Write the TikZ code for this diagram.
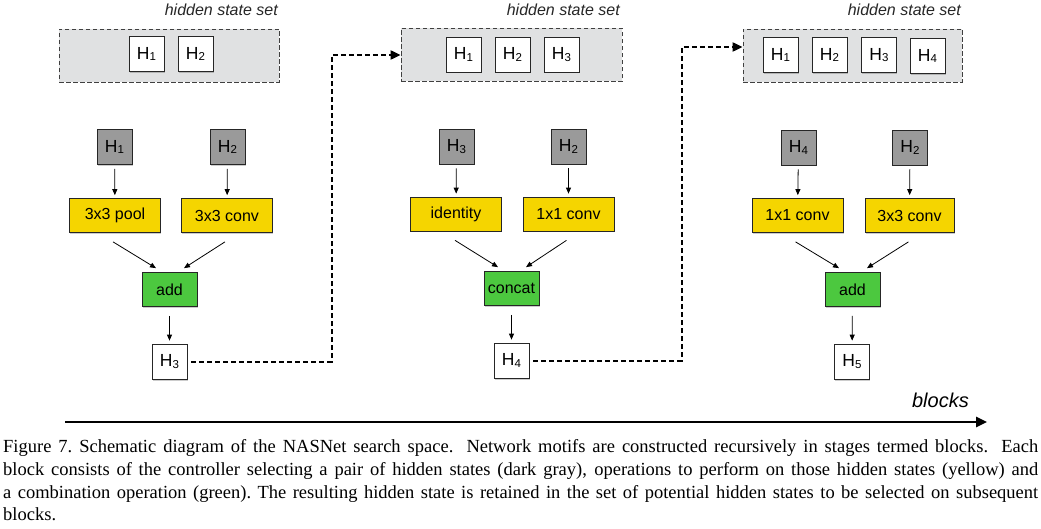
\documentclass[tikz,border=0pt]{standalone}
\usepackage{fontspec}
\setmainfont{Liberation Sans}
\newfontfamily\capfont{Liberation Serif}
\usetikzlibrary{arrows.meta,calc,shadows}
\definecolor{setgray}{HTML}{E0E1E2}
\definecolor{hgray}{HTML}{9A9A9A}
\definecolor{opyellow}{HTML}{F5D500}
\definecolor{cmbgreen}{HTML}{4CC83F}
\newcommand{\Hsub}[1]{H\kern0.2pt{\fontsize{11.5}{12}\selectfont\raisebox{-1.8pt}{#1}}}
\tikzset{
 shbox/.style={drop shadow={shadow xshift=0.8pt,shadow yshift=-1.5pt,opacity=0.2,fill=black}},
 hwhite/.style={draw=black!85,line width=0.7pt,fill=white,minimum width=35pt,minimum height=35pt,inner sep=0pt,font=\fontsize{17.5}{20}\selectfont,shbox},
 hdark/.style={hwhite,fill=hgray},
 opbox/.style={draw=black!85,line width=0.7pt,fill=opyellow,minimum width=91pt,minimum height=34pt,inner sep=0pt,font=\fontsize{16}{18}\selectfont,shbox},
 cmbbox/.style={opbox,fill=cmbgreen,minimum width=55pt},
 setbox/.style={draw=black!75,dash pattern=on 4.5pt off 2.5pt,line width=0.8pt,fill=setgray,minimum width=220pt,minimum height=53pt,inner sep=0pt},
 settitle/.style={font=\fontsize{16}{18}\selectfont\itshape,inner sep=0pt,anchor=base east,text=black!85},
 feedarrow/.style={-{Triangle[length=6pt,width=5pt]},line width=0.8pt},
 dashlink/.style={-{Triangle[length=10pt,width=9pt]},line width=2pt,dash pattern=on 5pt off 3pt},
 capline/.style={anchor=base west,inner sep=0pt,font=\capfont\fontsize{18.5}{23}\selectfont},
}
\begin{document}
\begin{tikzpicture}[x=1pt,y=-1pt]
\useasboundingbox (0,0) rectangle (1041,529);
% ---------------- block 1
\node[settitle] (t1) at (278,16) {hidden state set};
\node[setbox] (set1) at (169,55.5) {};
\node[hwhite] (s1a) at (146.5,54) {\Hsub{1}};
\node[hwhite] (s1b) at (195.5,54) {\Hsub{2}};
\node[hdark] (g1a) at (114.5,147) {\Hsub{1}};
\node[hdark] (g1b) at (227.5,147) {\Hsub{2}};
\node[opbox] (y1a) at (115,215.5) {3x3 pool};
\node[opbox] (y1b) at (227,215.5) {3x3 conv};
\node[cmbbox] (c1) at (169.5,289.5) {add};
\node[hwhite] (o1) at (169.5,361.5) {\Hsub{3}};
\draw[feedarrow,shorten <=4pt,shorten >=3pt] (g1a) -- (y1a);
\draw[feedarrow,shorten <=4pt,shorten >=3pt] (g1b) -- (y1b);
\draw[feedarrow] ($(y1a.south)+(-2,9)$) -- ($(c1.north)+(-13.5,-4)$);
\draw[feedarrow] ($(y1b.south)+(-2,9)$) -- ($(c1.north)+(14.5,-4)$);
\draw[feedarrow,shorten <=9pt,shorten >=3pt] (c1) -- (o1);
% ---------------- block 2
\node[settitle] (t2) at (620,16) {hidden state set};
\node[setbox,minimum width=221pt] (set2) at (511.5,55) {};
\node[hwhite] (s2a) at (463.5,54.5) {\Hsub{1}};
\node[hwhite] (s2b) at (512.5,54.5) {\Hsub{2}};
\node[hwhite] (s2c) at (561.5,54.5) {\Hsub{3}};
\node[hdark] (g2a) at (456.5,146.5) {\Hsub{3}};
\node[hdark] (g2b) at (568.5,146.5) {\Hsub{2}};
\node[opbox] (y2a) at (456,214) {identity};
\node[opbox] (y2b) at (568.5,214) {1x1 conv};
\node[cmbbox] (c2) at (511.5,288.5) {concat};
\node[hwhite] (o2) at (511.5,360.5) {\Hsub{4}};
\draw[feedarrow,shorten <=4pt,shorten >=3pt] (g2a) -- (y2a);
\draw[feedarrow,shorten <=4pt,shorten >=3pt] (g2b) -- (y2b);
\draw[feedarrow] ($(y2a.south)+(-1,9)$) -- ($(c2.north)+(-13.5,-4)$);
\draw[feedarrow] ($(y2b.south)+(-2,9)$) -- ($(c2.north)+(14.5,-4)$);
\draw[feedarrow,shorten <=9pt,shorten >=3pt] (c2) -- (o2);
% ---------------- block 3
\node[settitle] (t3) at (961,16) {hidden state set};
\node[setbox,minimum width=219pt] (set3) at (852.5,55.5) {};
\node[hwhite] (s3a) at (780.5,55) {\Hsub{1}};
\node[hwhite] (s3b) at (829.5,55) {\Hsub{2}};
\node[hwhite] (s3c) at (879,55) {\Hsub{3}};
\node[hwhite] (s3d) at (927.5,56) {\Hsub{4}};
\node[hdark] (g3a) at (798.5,147.5) {\Hsub{4}};
\node[hdark] (g3b) at (910,147.5) {\Hsub{2}};
\node[opbox] (y3a) at (797.5,215.5) {1x1 conv};
\node[opbox,minimum width=89pt] (y3b) at (909.5,215.5) {3x3 conv};
\node[cmbbox] (c3) at (852.5,289.5) {add};
\node[hwhite] (o3) at (852,361.5) {\Hsub{5}};
\draw[feedarrow,shorten <=4pt,shorten >=3pt] (g3a) -- (y3a);
\draw[feedarrow,shorten <=4pt,shorten >=3pt] (g3b) -- (y3b);
\draw[feedarrow] ($(y3a.south)+(-2,9)$) -- ($(c3.north)+(-13.5,-4)$);
\draw[feedarrow] ($(y3b.south)+(-1,9)$) -- ($(c3.north)+(14.5,-4)$);
\draw[feedarrow,shorten <=9pt,shorten >=3pt] (c3) -- (o3);
% ---------------- dashed links between blocks
\coordinate (k1) at (332,55);
\coordinate (k2) at (682,47);
\draw[dashlink,shorten <=4pt] (o1.east) -| (k1) -- (set2.west);
\draw[dashlink,shorten <=4pt] (o2.east) -| (k2) -- (k2 -| set3.west);
% ---------------- blocks axis
\coordinate (b0) at (65,422);
\coordinate (b1) at (987,422);
\draw[-{Triangle[length=11pt,width=10pt]},line width=2.6pt] (b0) -- (b1);
\node[font=\fontsize{20}{22}\selectfont\itshape,inner sep=0pt,anchor=base east] (bl) at (969,407) {blocks};
% ---------------- caption
\node[capline] (cap1) at (3,452) {\hbox to 1035pt{Figure 7.\ Schematic diagram of the NASNet search space.  Network motifs are constructed recursively in stages termed blocks.  Each}};
\node[capline] (cap2) at (3,475) {\hbox to 1035pt{block consists of the controller selecting a pair of hidden states (dark gray), operations to perform on those hidden states (yellow) and}};
\node[capline] (cap3) at (3,498) {\hbox to 1035pt{a combination operation (green).\ The resulting hidden state is retained in the set of potential hidden states to be selected on subsequent}};
\node[capline] (cap4) at (3,520) {blocks.};
\end{tikzpicture}
\end{document}
